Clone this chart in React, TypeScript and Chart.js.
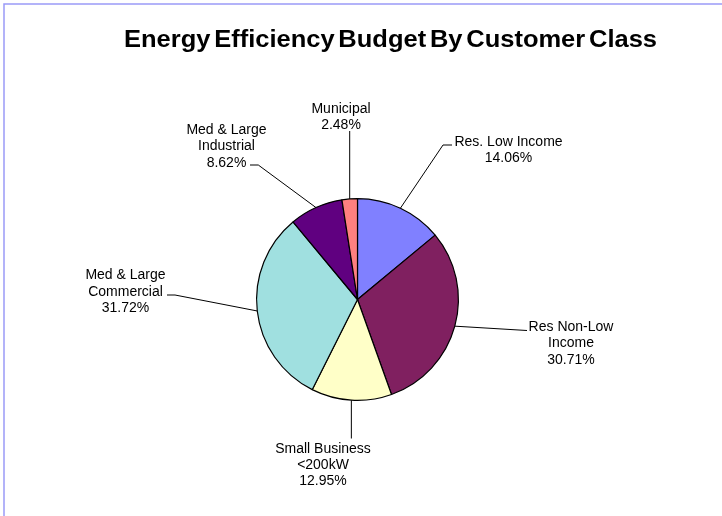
import React, { useEffect, useRef } from "react";
import { Chart, registerables } from "chart.js";

Chart.register(...registerables);

const TITLE = "Energy Efficiency Budget By Customer Class";
const CATEGORIES = [
  "Res. Low Income",
  "Res Non-Low Income",
  "Small Business <200kW",
  "Med & Large Commercial",
  "Med & Large Industrial",
  "Municipal",
];
const VALUES = [14.06, 30.71, 12.95, 31.72, 8.62, 2.48];
const LABEL_LINES = [
  ["Res. Low Income"],
  ["Res Non-Low", "Income"],
  ["Small Business", "<200kW"],
  ["Med & Large", "Commercial"],
  ["Med & Large", "Industrial"],
  ["Municipal"],
];
const COLORS = ["#8080FF", "#802060", "#FFFFC8", "#A0E0E0", "#600080", "#FF8080"];

// label layout: text centre x, first baseline y, leader path points (null x = same x as edge)
const LABEL_LAYOUT: { x: number; y: number; path: [number | null, number][] }[] = [
  { x: 508.5, y: 145.7, path: [[443, 145], [452, 145]] },
  { x: 571, y: 331, path: [[527, 330.5]] },
  { x: 323, y: 452.7, path: [[null, 438.5]] },
  { x: 125.5, y: 279.3, path: [[175, 295], [167, 295]] },
  { x: 226.5, y: 134, path: [[258.3, 165], [250, 165]] },
  { x: 341, y: 112.5, path: [[null, 131]] },
];

const LINE_H = 16.3;

const decorPlugin = {
  id: "decor",
  beforeDraw(chart: any) {
    const ctx = chart.ctx as CanvasRenderingContext2D;
    ctx.save();
    ctx.fillStyle = "#ffffff";
    ctx.fillRect(0, 0, chart.width, chart.height);
    ctx.strokeStyle = "#9a9af8";
    ctx.lineWidth = 1.5;
    ctx.beginPath();
    ctx.moveTo(4, chart.height);
    ctx.lineTo(4, 4);
    ctx.lineTo(chart.width, 4);
    ctx.stroke();
    ctx.restore();
  },
  afterDraw(chart: any) {
    const ctx = chart.ctx as CanvasRenderingContext2D;
    // title
    ctx.save();
    ctx.fillStyle = "#000";
    ctx.font = 'bold 23px "Liberation Sans", Arial, sans-serif';
    (ctx as any).wordSpacing = "-3px";
    ctx.textBaseline = "alphabetic";
    ctx.textAlign = "left";
    const w = ctx.measureText(TITLE).width;
    const sx = 533 / w;
    ctx.translate(124, 47);
    ctx.scale(sx, 1);
    ctx.fillText(TITLE, 0, 0);
    ctx.restore();

    // leaders and labels
    const meta = chart.getDatasetMeta(0);
    ctx.save();
    ctx.strokeStyle = "#000";
    ctx.lineWidth = 1;
    ctx.fillStyle = "#000";
    ctx.font = '14px "Liberation Sans", Arial, sans-serif';
    ctx.textAlign = "center";
    ctx.textBaseline = "alphabetic";
    meta.data.forEach((arc: any, i: number) => {
      const p = arc.getProps(["x", "y", "startAngle", "endAngle", "outerRadius"], true);
      const mid = (p.startAngle + p.endAngle) / 2;
      const ex = p.x + Math.cos(mid) * p.outerRadius;
      const ey = p.y + Math.sin(mid) * p.outerRadius;
      const lay = LABEL_LAYOUT[i];
      ctx.beginPath();
      ctx.moveTo(ex, ey);
      lay.path.forEach(([px, py]) => {
        ctx.lineTo(px === null ? ex : px, py);
      });
      ctx.stroke();
      const lines = [...LABEL_LINES[i], VALUES[i].toFixed(2) + "%"];
      lines.forEach((t, k) => {
        ctx.fillText(t, lay.x, lay.y + k * LINE_H);
      });
    });
    ctx.restore();
  },
};

export default function App() {
  const ref = useRef<HTMLCanvasElement | null>(null);
  useEffect(() => {
    if (!ref.current) return;
    const chart = new Chart(ref.current, {
      type: "pie",
      data: {
        labels: CATEGORIES,
        datasets: [
          {
            data: VALUES,
            backgroundColor: COLORS,
            borderColor: "#000000",
            borderWidth: 1.2,
          },
        ],
      },
      options: {
        responsive: false,
        animation: false,
        layout: { padding: { left: 256, right: 263, top: 198, bottom: 115 } },
        plugins: {
          legend: { display: false },
          title: { display: false },
          tooltip: { enabled: false },
        },
      },
      plugins: [decorPlugin],
    });
    return () => chart.destroy();
  }, []);
  return (
    <div style={{ position: "absolute", left: 0, top: 0, width: 722, height: 516 }}>
      <canvas ref={ref} width={722} height={516} style={{ display: "block" }} />
    </div>
  );
}
